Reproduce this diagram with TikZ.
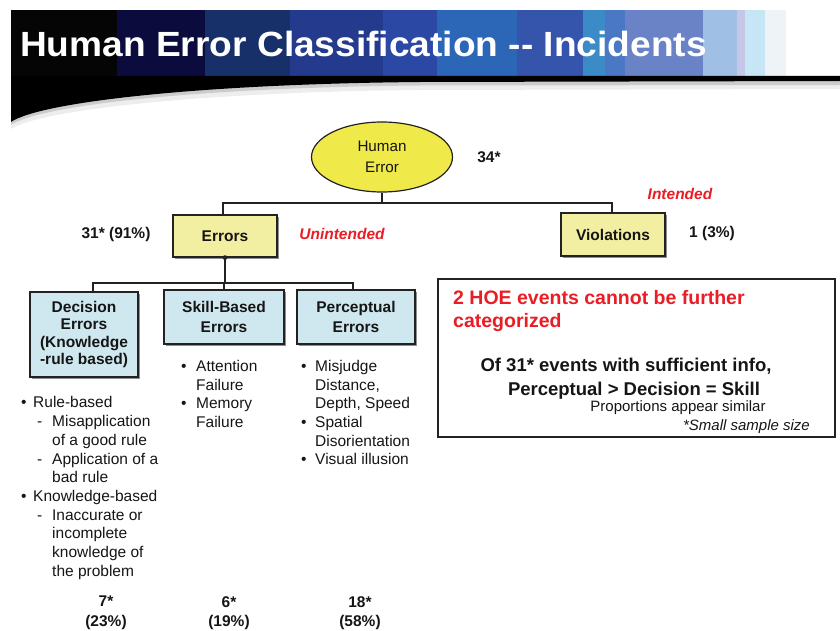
\documentclass[tikz,border=0pt]{standalone}
\usepackage{fontspec}
\setmainfont{Liberation Sans}
\usetikzlibrary{shapes.geometric,shadows}

% banner stripe colours, left to right
\definecolor{bA}{HTML}{050505}
\definecolor{bB}{HTML}{0B0B3D}
\definecolor{bC}{HTML}{17306A}
\definecolor{bD}{HTML}{243A8C}
\definecolor{bE}{HTML}{2A48A4}
\definecolor{bF}{HTML}{2C66B6}
\definecolor{bG}{HTML}{3555AC}
\definecolor{bH}{HTML}{3B8CC6}
\definecolor{bI}{HTML}{4A78C4}
\definecolor{bJ}{HTML}{6A82C6}
\definecolor{bK}{HTML}{9FBFE4}
\definecolor{bL}{HTML}{C6C6E6}
\definecolor{bM}{HTML}{C6E6F6}
\definecolor{bN}{HTML}{EEF3F7}
% diagram colours
\definecolor{ink}{HTML}{151515}
\definecolor{edge}{HTML}{222222}
\definecolor{ellfill}{HTML}{EFE94A}
\definecolor{yelfill}{HTML}{F3EFA2}
\definecolor{bluefill}{HTML}{CFE8F0}
\definecolor{alert}{HTML}{EA1C24}

\tikzset{
  yellowbox/.style={draw=edge, line width=1.2pt, fill=yelfill, inner sep=0pt,
    font=\bfseries\fontsize{15.5}{18}\selectfont, text=ink,
    drop shadow={shadow xshift=1.6pt, shadow yshift=-1.6pt, fill=black!55, opacity=0.8}},
  bluebox/.style={draw=edge, line width=1.2pt, fill=bluefill, inner sep=0pt,
    align=center, text=ink,
    drop shadow={shadow xshift=1.6pt, shadow yshift=-1.6pt, fill=black!55, opacity=0.8}},
  bus/.style={draw=edge, line width=1.8pt},
  lbl/.style={inner sep=0pt, text=ink, font=\bfseries\fontsize{15.5}{18}\selectfont},
  redlbl/.style={inner sep=0pt, text=alert, font=\bfseries\itshape\fontsize{15.5}{18}\selectfont},
  listtext/.style={inner sep=0pt, anchor=north west, align=left, text=ink,
    font=\fontsize{15.5}{18.7}\selectfont},
  counts/.style={inner sep=0pt, anchor=north, align=center, text=ink,
    font=\bfseries\fontsize{15.5}{19.5}\selectfont},
}

\begin{document}
\begin{tikzpicture}[x=1pt, y=-1pt]
\useasboundingbox (0,0) rectangle (840,631);

% ---- title banner ----
\foreach \xa/\xb/\c in {11/118/bA, 117/206/bB, 205/291/bC, 290/384/bD, 383/438/bE,
    437/518/bF, 517/584/bG, 583/606/bH, 605/626/bI, 625/704/bJ, 703/738/bK,
    737/746/bL, 745/766/bM, 765/786/bN}
  \fill[\c] (\xa,10) rectangle (\xb,78);
% soft shadow under the swoosh
\fill[black!7] (11,84) -- (840,84) -- (840,89) -- (420,90)
  .. controls (200,92) and (40,110) .. (11,129) -- cycle;
\fill[black!20] (11,80) -- (840,80) -- (840,85) -- (420,85.5)
  .. controls (200,87.5) and (40,105) .. (11,125) -- cycle;
% black swoosh and rule
\fill[black] (11,76) -- (840,76) -- (840,81) -- (420,82)
  .. controls (200,84) and (40,102) .. (11,122) -- cycle;

\node[anchor=base west, inner sep=0pt, text=white,
  font=\bfseries\fontsize{35}{40}\selectfont] (title) at (20,57)
  {\scalebox{1.06}[1]{Human Error Classification -{}- Incidents}};

% ---- tree ----
\node[ellipse, draw=edge, line width=1.2pt, fill=ellfill, minimum width=141pt,
  minimum height=70pt, inner sep=0pt, align=center, text=ink,
  font=\fontsize{15.2}{21.5}\selectfont] (he) at (382,157) {Human\\Error};
\node[lbl, anchor=base] (n34) at (489,163) {34*};

\node[yellowbox, minimum width=104pt, minimum height=42pt] (err) at (225,236) {Errors};
\node[yellowbox, minimum width=104pt, minimum height=43pt] (vio) at (613,234.5) {Violations};

\node[redlbl, anchor=base] (unint) at (342,239) {Unintended};
\node[redlbl, anchor=base] (intd) at (680,200) {Intended};
\node[lbl, anchor=base] (n31) at (116,238) {31* (91\%)};
\node[lbl, anchor=base] (n1) at (712,237.5) {1 (3\%)};

\coordinate (busA) at (382,203);
\draw[bus] (he.south) -- (busA);
\draw[bus] (busA) -| ([xshift=-2pt]err.north);
\draw[bus] (busA) -| ([xshift=-1pt]vio.north);

\node[bluebox, minimum width=108pt, minimum height=85pt,
  font=\bfseries\fontsize{15.5}{17.6}\selectfont] (dec) at (84,334.5)
  {Decision\\Errors\\(Knowledge\\-rule based)};
\node[bluebox, minimum width=120pt, minimum height=54pt,
  font=\bfseries\fontsize{15.5}{20}\selectfont] (skl) at (224,317)
  {Skill-Based\\Errors};
\node[bluebox, minimum width=118pt, minimum height=54pt,
  font=\bfseries\fontsize{15.5}{20}\selectfont] (per) at (356,317)
  {Perceptual\\Errors};

\coordinate (busB) at (225,283);
\draw[bus] (err.south) -- (busB);
\fill[edge] (err.south) circle (2.4pt);
\draw[bus] (busB) -| ([xshift=9pt]dec.north);
\draw[bus] (busB) -| (skl.north);
\draw[bus] (busB) -| ([xshift=-3pt]per.north);

% ---- bullet lists ----
\node[listtext] (declist) at (21,396.5)
  {\makebox[12pt][l]{\textbullet}Rule-based\\
   \hspace*{16pt}\makebox[15pt][l]{-}Misapplication\\
   \hspace*{31pt}of a good rule\\
   \hspace*{16pt}\makebox[15pt][l]{-}Application of a\\
   \hspace*{31pt}bad rule\\
   \makebox[12pt][l]{\textbullet}Knowledge-based\\
   \hspace*{16pt}\makebox[15pt][l]{-}Inaccurate or\\
   \hspace*{31pt}incomplete\\
   \hspace*{31pt}knowledge of\\
   \hspace*{31pt}the problem};
\node[listtext] (skllist) at (181,360)
  {\makebox[15pt][l]{\textbullet}Attention\\
   \hspace*{15pt}Failure\\
   \makebox[15pt][l]{\textbullet}Memory\\
   \hspace*{15pt}Failure};
\node[listtext] (perlist) at (301,360)
  {\makebox[14pt][l]{\textbullet}Misjudge\\
   \hspace*{14pt}Distance,\\
   \hspace*{14pt}Depth, Speed\\
   \makebox[14pt][l]{\textbullet}Spatial\\
   \hspace*{14pt}Disorientation\\
   \makebox[14pt][l]{\textbullet}Visual illusion};

% ---- counts per category ----
\node[counts] (cdec) at (106,596) {7*\\(23\%)};
\node[counts] (cskl) at (229,596) {6*\\(19\%)};
\node[counts] (cper) at (360,596) {18*\\(58\%)};

% ---- note box ----
\node[draw=edge, line width=1.2pt, minimum width=397pt, minimum height=158pt,
  inner sep=0pt] (note) at (636.5,358) {};
\node[inner sep=0pt, anchor=north west, align=left, text=alert,
  font=\bfseries\fontsize{19.5}{23.2}\selectfont] (hoe) at (453,290)
  {2 HOE events cannot be further\\categorized};
\node[inner sep=0pt, anchor=base, text=ink,
  font=\bfseries\fontsize{18.5}{22}\selectfont] (of31) at (626,371.5)
  {Of 31* events with sufficient info,};
\node[inner sep=0pt, anchor=base, text=ink,
  font=\bfseries\fontsize{18.5}{22}\selectfont] (rank) at (634,395)
  {Perceptual > Decision = Skill};
\node[inner sep=0pt, anchor=base, text=ink,
  font=\fontsize{15}{18}\selectfont] (prop) at (678,411.5)
  {Proportions appear similar};
\node[inner sep=0pt, anchor=base east, text=ink,
  font=\itshape\fontsize{15}{18}\selectfont] (small) at (810,430)
  {*Small sample size};
\end{tikzpicture}
\end{document}
